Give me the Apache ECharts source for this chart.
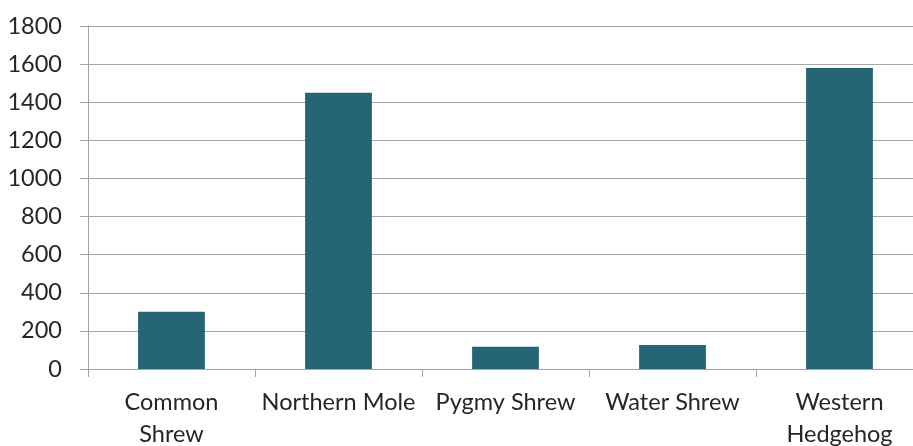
<!DOCTYPE html>
<html>
<head>
<meta charset="utf-8">
<script src="https://cdn.jsdelivr.net/npm/echarts@6/dist/echarts.min.js"></script>
<style>
  html, body { margin: 0; padding: 0; background: #ffffff; }
  #chart { width: 913px; height: 446px; }
</style>
</head>
<body>
<div id="chart"></div>
<script>
// Species names (line breaks where the label wraps under its bar)
const categories = ["Common\nShrew", "Northern Mole", "Pygmy Shrew", "Water Shrew", "Western\nHedgehog"];
// Counts per species
const counts = [300, 1450, 117, 126, 1580];
// Value axis range and step
const yMin = 0;
const yMax = 1800;
const yStep = 200;

const chart = echarts.init(document.getElementById('chart'));
const lineColor = '#a6a6a6';
const textColor = '#262626';
const fontFamily = 'Lato, "Noto Sans", sans-serif';

chart.setOption({
  animation: false,
  backgroundColor: '#ffffff',
  grid: {
    left: 88, top: 26, width: 835, bottom: 77,
    containLabel: false,
    outerBoundsMode: 'none'
  },
  xAxis: {
    type: 'category',
    data: categories,
    boundaryGap: true,
    axisLine: { show: true, lineStyle: { color: lineColor, width: 1 } },
    axisTick: { show: true, length: 8, alignWithLabel: false, lineStyle: { color: lineColor } },
    axisLabel: {
      interval: 0,
      margin: 17,
      color: textColor,
      fontFamily: fontFamily,
      fontSize: 23.5,
      lineHeight: 32
    }
  },
  yAxis: {
    type: 'value',
    min: yMin,
    max: yMax,
    interval: yStep,
    axisLine: { show: true, lineStyle: { color: lineColor, width: 1 } },
    axisTick: { show: true, length: 8, lineStyle: { color: lineColor } },
    splitLine: { show: true, lineStyle: { color: lineColor, width: 1 } },
    axisLabel: {
      margin: 26,
      color: textColor,
      fontFamily: fontFamily,
      fontSize: 23.5,
      formatter: function (v) { return String(v); }
    }
  },
  series: [{
    type: 'bar',
    data: counts,
    barWidth: '40%',
    itemStyle: { color: '#256576' }
  }]
});
</script>
</body>
</html>
